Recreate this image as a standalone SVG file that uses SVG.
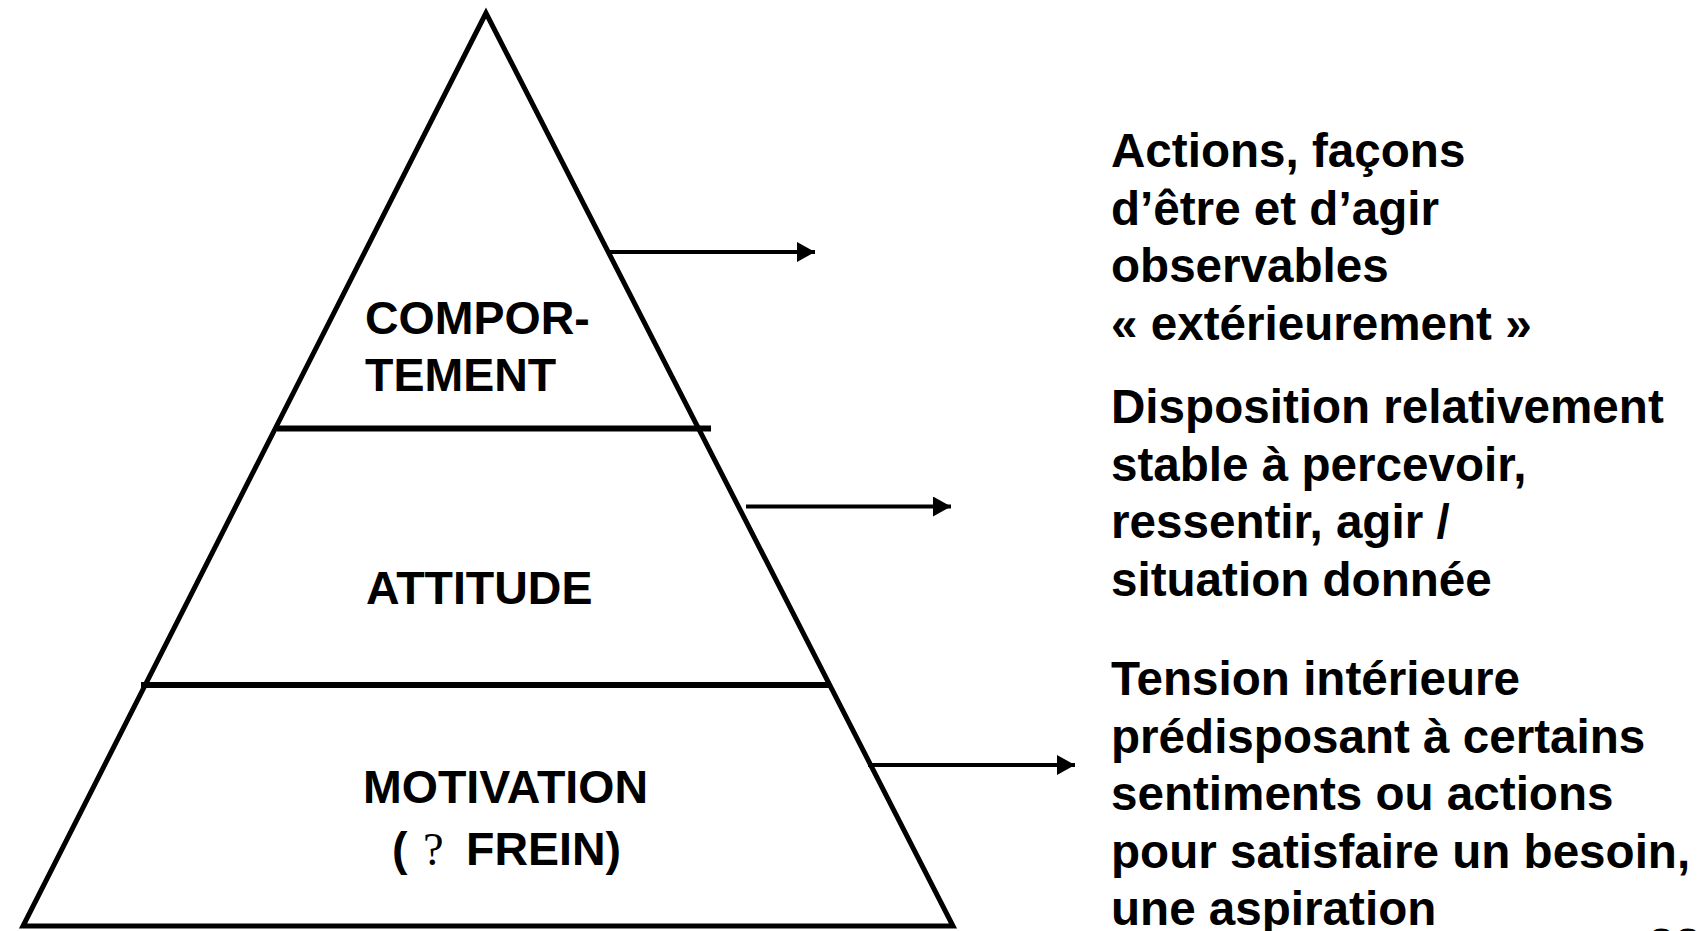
<svg xmlns="http://www.w3.org/2000/svg" width="1708" height="931" viewBox="0 0 1708 931">
  <style>
    .edge { fill: none; stroke: #000; stroke-width: 5; stroke-linejoin: miter; stroke-miterlimit: 10; }
    .divider { stroke: #000; stroke-width: 6; }
    .arrow { stroke: #000; stroke-width: 4; fill: none; marker-end: url(#head); }
    .label { font-family: "Liberation Sans", Arial, sans-serif; font-weight: bold; font-size: 46.5px; fill: #000; }
    .note { font-family: "Liberation Sans", Arial, sans-serif; font-weight: bold; font-size: 47.6px; fill: #000; }
    .glyph { font-family: "Liberation Serif", "Times New Roman", serif; font-weight: normal; }
  </style>
  <defs>
    <marker id="head" markerUnits="userSpaceOnUse" markerWidth="19" markerHeight="20" refX="18" refY="10" orient="auto">
      <path d="M0,0 L18,10 L0,20 z" fill="#000"/>
    </marker>
  </defs>
  <rect width="1708" height="931" fill="#fff"/>

  <!-- pyramid outline and tier dividers -->
  <g id="pyramid">
    <polygon class="edge" points="486,13 23,926 953,926"/>
    <line class="divider" x1="277" y1="428.5" x2="711" y2="428.5"/>
    <line class="divider" x1="141" y1="685" x2="831" y2="685"/>
  </g>

  <!-- tier labels -->
  <g id="tier-comportement">
    <text class="label" x="365" y="334">COMPOR-</text>
    <text class="label" x="365" y="391">TEMENT</text>
  </g>
  <g id="tier-attitude">
    <text class="label" x="366" y="604">ATTITUDE</text>
  </g>
  <g id="tier-motivation">
    <text class="label" x="363" y="803">MOTIVATION</text>
    <text class="label" y="865"><tspan x="392">(</tspan><tspan class="glyph" x="423">?</tspan><tspan x="466">FREIN)</tspan></text>
  </g>

  <!-- connectors from each tier to its description -->
  <g id="connectors">
    <line class="arrow" x1="610" y1="252" x2="815" y2="252"/>
    <line class="arrow" x1="746" y1="506.5" x2="951" y2="506.5"/>
    <line class="arrow" x1="868" y1="765" x2="1075" y2="765"/>
  </g>

  <!-- descriptions -->
  <g id="desc-comportement">
    <text class="note" x="1111" y="167">Actions, façons</text>
    <text class="note" x="1111" y="224.5">d’être et d’agir</text>
    <text class="note" x="1111" y="282">observables</text>
    <text class="note" x="1111" y="339.5">« extérieurement »</text>
  </g>
  <g id="desc-attitude">
    <text class="note" x="1111" y="423">Disposition relativement</text>
    <text class="note" x="1111" y="480.5">stable à percevoir,</text>
    <text class="note" x="1111" y="538">ressentir, agir /</text>
    <text class="note" x="1111" y="595.5">situation donnée</text>
  </g>
  <g id="desc-motivation">
    <text class="note" x="1111" y="695">Tension intérieure</text>
    <text class="note" x="1111" y="752.5">prédisposant à certains</text>
    <text class="note" x="1111" y="810">sentiments ou actions</text>
    <text class="note" x="1111" y="867.5">pour satisfaire un besoin,</text>
    <text class="note" x="1111" y="925">une aspiration</text>
  </g>

  <!-- slide number, clipped by the bottom edge -->
  <text class="note" x="1648" y="962" font-size="40">22</text>
</svg>
